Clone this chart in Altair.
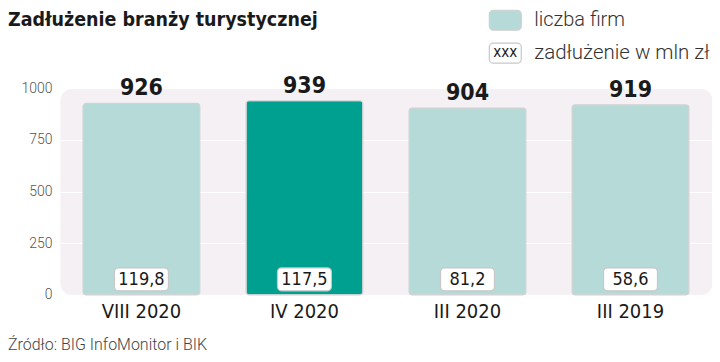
import altair as alt
import pandas as pd

categories = ["VIII 2020", "IV 2020", "III 2020", "III 2019"]
firms = [926, 939, 904, 919]
debt = [119.8, 117.5, 81.2, 58.6]
highlight = ["n", "y", "n", "n"]
y_ticks = [0, 250, 500, 750, 1000]

title_text = "Zadłużenie branży turystycznej"
legend_labels = ["liczba firm", "zadłużenie w mln zł"]
source_text = "Źródło: BIG InfoMonitor i BIK"

df = pd.DataFrame({
    "cat": categories,
    "firms": firms,
    "debt": [f"{v:.1f}".replace(".", ",") for v in debt],
    "hl": highlight,
})
one = pd.DataFrame({"a": [0]})

COND = "DejaVu Sans Condensed, Roboto, sans-serif"
LIGHT = "Roboto"
LIGHT_C = "#b5dad8"
DARK_C = "#00a091"

x = alt.X("cat:N", sort=categories,
          scale=alt.Scale(paddingInner=0.284, paddingOuter=0.142),
          axis=alt.Axis(title=None, labelAngle=0, labelFontSize=20, labelFont=COND,
                        labelColor="#1a1a1a", labelPadding=7, ticks=False, domain=False))
y = alt.Y("firms:Q", scale=alt.Scale(domain=[0, 1000]),
          axis=alt.Axis(title=None, values=y_ticks, format="d", labelFontSize=14, labelFont=LIGHT,
                        labelFontWeight=300, labelColor="#555555", labelPadding=8,
                        ticks=False, domain=False, gridColor="#ffffff", gridWidth=1))

base = alt.Chart(df)

bars = base.mark_bar(cornerRadius=3, stroke="#cfd3d3", strokeWidth=1.2).encode(
    x=x, y=y,
    color=alt.Color("hl:N", scale=alt.Scale(domain=["n", "y"], range=[LIGHT_C, DARK_C]), legend=None),
)

top = base.mark_text(baseline="bottom", dy=-3, fontSize=23, fontWeight="bold",
                     font=COND, color="#1a1a1a").encode(x=x, y=y, text="firms:Q")

boxes = base.mark_bar(width=54, cornerRadius=4, fill="#ffffff", stroke="#c8c8c8",
                      strokeWidth=1.2).encode(
    x=x, y=alt.value(180), y2=alt.value(203))

box_text = base.mark_text(fontSize=18, font=COND, color="#1a1a1a", baseline="middle").encode(
    x=x, y=alt.value(192), text="debt:N")

title = alt.Chart(one).mark_text(align="left", baseline="middle", fontSize=19.5,
                                 fontWeight="bold", font=COND, color="#1a1a1a").encode(
    x=alt.value(-52), y=alt.value(-68), text=alt.value(title_text))

leg_rect1 = alt.Chart(one).mark_rect(cornerRadius=4, fill=LIGHT_C, stroke="#d0d0d0",
                                     strokeWidth=1.2).encode(
    x=alt.value(430), x2=alt.value(462), y=alt.value(-78), y2=alt.value(-58))
leg_rect2 = alt.Chart(one).mark_rect(cornerRadius=4, fill="#ffffff", stroke="#c8c8c8",
                                     strokeWidth=1.2).encode(
    x=alt.value(430), x2=alt.value(462), y=alt.value(-45), y2=alt.value(-25))
leg_xxx = alt.Chart(one).mark_text(fontSize=15, font=COND, color="#1a1a1a",
                                   baseline="middle").encode(
    x=alt.value(446), y=alt.value(-36), text=alt.value("xxx"))
leg_t1 = alt.Chart(one).mark_text(align="left", baseline="middle", fontSize=20, font=LIGHT,
                                  fontWeight=300, color="#333333").encode(
    x=alt.value(475), y=alt.value(-68), text=alt.value(legend_labels[0]))
leg_t2 = alt.Chart(one).mark_text(align="left", baseline="middle", fontSize=20.5, font=LIGHT,
                                  fontWeight=300, color="#333333").encode(
    x=alt.value(475), y=alt.value(-35), text=alt.value(legend_labels[1]))

source = alt.Chart(one).mark_text(align="left", baseline="middle", fontSize=16, font=LIGHT,
                                  fontWeight=300, color="#444444").encode(
    x=alt.value(-52), y=alt.value(257), text=alt.value(source_text))

chart = alt.layer(bars, top, boxes, box_text, title, leg_rect1, leg_rect2, leg_xxx,
                  leg_t1, leg_t2, source).properties(
    width=653, height=207,
    autosize=alt.AutoSizeParams(type="none"),
    padding={"left": 52, "top": 80, "right": 0, "bottom": 59},
    background="#ffffff",
).configure_view(fill="#f4f0f3", cornerRadius=12, stroke="transparent")

chart.save("out.html", embed_options={"renderer": "svg", "actions": False})
